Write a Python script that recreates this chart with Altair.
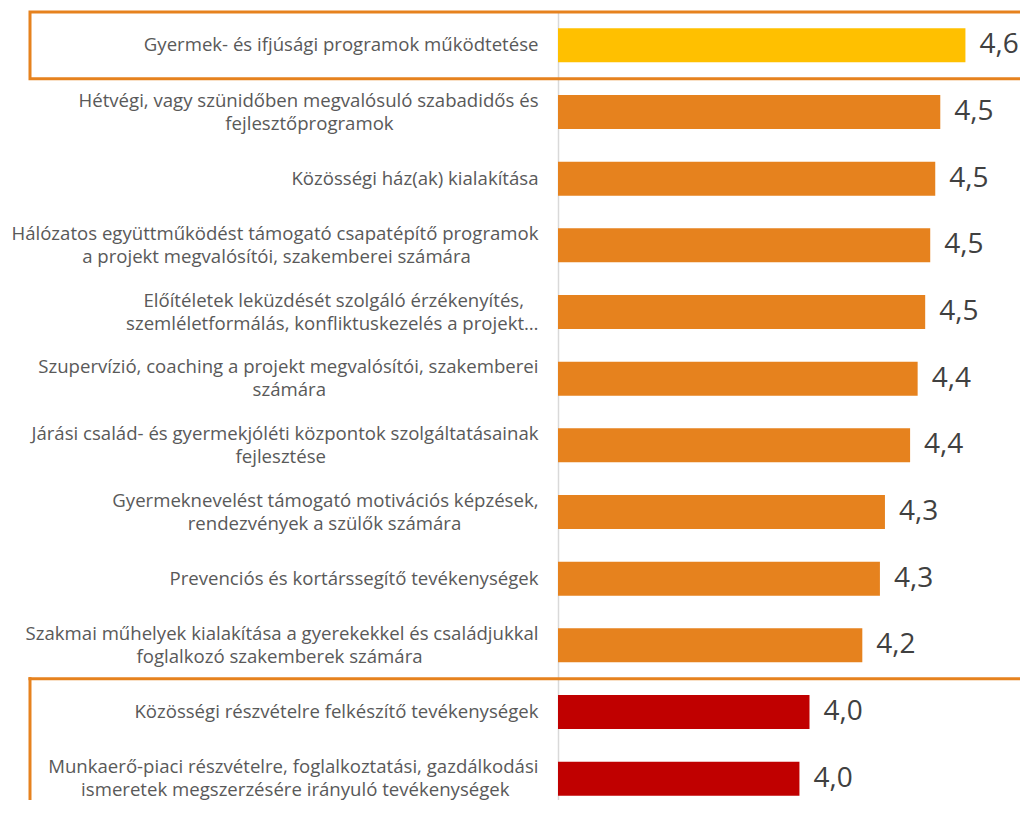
import altair as alt
import pandas as pd

# ---- data ----
line1 = [
    "Gyermek- és ifjúsági programok működtetése",
    "Hétvégi, vagy szünidőben megvalósuló szabadidős és",
    "Közösségi ház(ak) kialakítása",
    "Hálózatos együttműködést támogató csapatépítő programok",
    "Előítéletek leküzdését szolgáló érzékenyítés,",
    "Szupervízió, coaching a projekt megvalósítói, szakemberei",
    "Járási család- és gyermekjóléti központok szolgáltatásainak",
    "Gyermeknevelést támogató motivációs képzések,",
    "Prevenciós és kortárssegítő tevékenységek",
    "Szakmai műhelyek kialakítása a gyerekekkel és családjukkal",
    "Közösségi részvételre felkészítő tevékenységek",
    "Munkaerő-piaci részvételre, foglalkoztatási, gazdálkodási",
]
line2 = [
    "",
    "fejlesztőprogramok",
    "",
    "a projekt megvalósítói, szakemberei számára",
    "szemléletformálás, konfliktuskezelés a projekt…",
    "számára",
    "fejlesztése",
    "rendezvények a szülők számára",
    "",
    "foglalkozó szakemberek számára",
    "",
    "ismeretek megszerzésére irányuló tevékenységek",
]
values = [4.62, 4.52, 4.50, 4.48, 4.46, 4.43, 4.40, 4.30, 4.28, 4.21, 4.00, 3.96]
value_labels = ["4,6", "4,5", "4,5", "4,5", "4,5", "4,4", "4,4", "4,3", "4,3", "4,2", "4,0", "4,0"]
groups = ["kiemelt"] + ["közepes"] * 9 + ["alacsony"] * 2

group_domain = ["kiemelt", "közepes", "alacsony"]
group_colors = ["#FFC000", "#E6821E", "#C00000"]

# ---- label formatting (centre the shorter line under the longer one) ----
FS = 18.6
LH = 23
# approximate Open Sans advance widths (em)
EM = {" ": 0.26, "a": 0.556, "b": 0.613, "c": 0.476, "d": 0.613, "e": 0.561, "f": 0.339,
      "g": 0.548, "h": 0.614, "i": 0.253, "j": 0.253, "k": 0.525, "l": 0.253, "m": 0.93,
      "n": 0.614, "o": 0.604, "p": 0.613, "q": 0.613, "r": 0.408, "s": 0.477, "t": 0.353,
      "u": 0.614, "v": 0.501, "w": 0.778, "x": 0.524, "y": 0.502, "z": 0.477, ",": 0.244,
      ".": 0.266, "-": 0.322, "(": 0.295, ")": 0.295, "…": 0.8}
BASE = str.maketrans("áéíóöőúüű", "aeiooouuu")


def text_w(s):
    w = 0.0
    for ch in s.translate(BASE):
        w += EM.get(ch, 0.66 if ch.isupper() else 0.55)
    return w * FS


NBSP_W = 0.26 * FS


def pad(short, long_):
    diff = (text_w(long_) - text_w(short)) / 2
    return short + "\u00a0" * int(round(diff / NBSP_W)) + "\u2060"


display = []
for a, b in zip(line1, line2):
    if not b:
        display.append(a)
    elif text_w(a) >= text_w(b):
        display.append(a + "|" + pad(b, a))
    else:
        display.append(pad(a, b) + "|" + b)

df = pd.DataFrame({"cat": display, "value": values, "lab": value_labels, "grp": groups})

W, H = 462, 788
ORANGE = "#E6821E"
FONT = "Open Sans"

yscale = alt.Scale(domain=display, range=[0, 800], paddingInner=0, paddingOuter=0)
xscale = alt.Scale(domain=[3, 3 + W / 251.5], nice=False, zero=False)

bars = alt.Chart(df).mark_bar(size=34).encode(
    y=alt.Y("cat:N", scale=yscale, sort=None, title=None,
            axis=alt.Axis(labelExpr="split(datum.label, '|')", labelAlign="right",
                          labelFont=FONT, labelFontSize=FS, labelColor="#595959",
                          labelLineHeight=LH, labelLimit=0, labelPadding=20,
                          labelOffset={"condition": {"test": "indexof(datum.value, '|') >= 0",
                                                     "value": -LH / 2},
                                       "value": 0},
                          ticks=False, domainColor="#D9D9D9", domainWidth=1.5)),
    x=alt.X("value:Q", scale=xscale, axis=None),
    x2=alt.datum(3),
    color=alt.Color("grp:N", scale=alt.Scale(domain=group_domain, range=group_colors), legend=None),
)

texts = alt.Chart(df).mark_text(align="left", baseline="middle", dx=14, font=FONT,
                                fontSize=28, color="#404040").encode(
    y=alt.Y("cat:N", scale=yscale, sort=None),
    x=alt.X("value:Q", scale=xscale),
    text="lab:N",
)

top_box = alt.Chart(pd.DataFrame({"cat": [display[0]]})).mark_rect(
    filled=False, stroke=ORANGE, strokeWidth=3).encode(
    y=alt.Y("cat:N", scale=yscale, sort=None),
    x=alt.value(-528), x2=alt.value(W + 20),
)

low = pd.DataFrame({"cat": [display[10]]})
low_top = alt.Chart(low).mark_rule(stroke=ORANGE, strokeWidth=3, strokeCap="square").encode(
    y=alt.Y("cat:N", scale=yscale, sort=None, bandPosition=0),
    x=alt.value(-528), x2=alt.value(W + 20),
)
low_left = alt.Chart(low).mark_rule(stroke=ORANGE, strokeWidth=3, strokeCap="square").encode(
    y=alt.Y("cat:N", scale=yscale, sort=None, bandPosition=0),
    y2=alt.value(H + 40),
    x=alt.value(-528),
)

chart = alt.layer(bars, texts, top_box, low_top, low_left).properties(
    width=W, height=H,
    autosize=alt.AutoSizeParams(type="none"),
    padding={"left": 550, "top": 4, "right": 0, "bottom": 0},
    background="white",
).configure_view(strokeWidth=0)

chart.save("out.html", embed_options={"renderer": "svg", "actions": False})
